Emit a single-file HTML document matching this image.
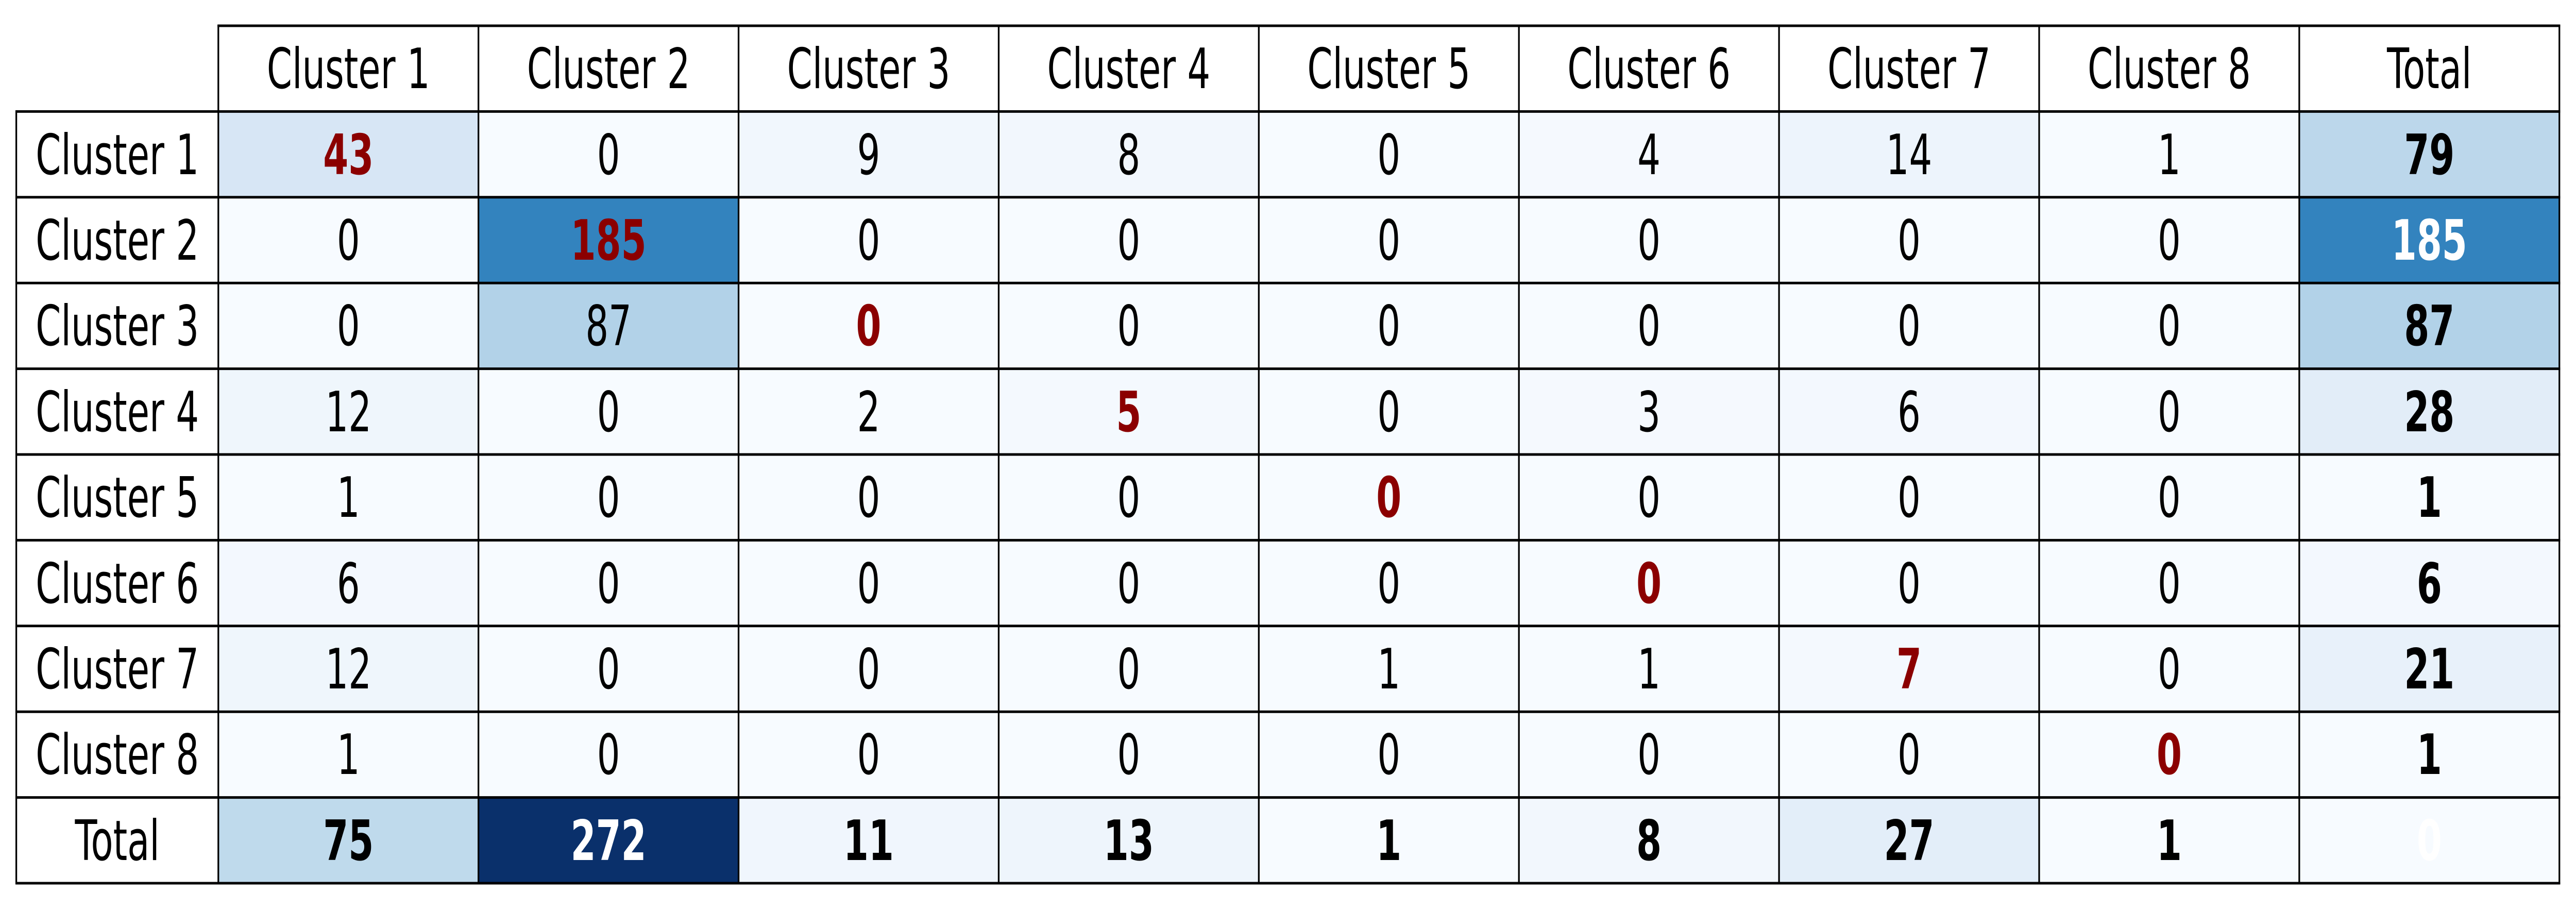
<!DOCTYPE html>
<html><head><meta charset="utf-8">
<style>
html,body{margin:0;padding:0;background:#fff;width:100vw;height:100vh;overflow:hidden}
svg{display:block;position:absolute;left:0;top:0;width:100vw;height:100vh}
text{font-family:"DejaVu Sans","Liberation Sans",sans-serif;font-size:108px;text-anchor:middle;fill:#000}
.d{fill:#8b0000;font-weight:bold}
.b{font-weight:bold}
.w{fill:#fff;font-weight:bold}
</style></head><body>
<svg viewBox="0 0 7675 1766" preserveAspectRatio="none" xmlns="http://www.w3.org/2000/svg">
<rect x="0" y="0" width="7675" height="1766" fill="#fff"/>
<rect x="650.5" y="216.4" width="6975" height="1497.6" fill="#f7fbff"/>
<rect x="650.5" y="216.4" width="775" height="166.4" fill="#d7e6f5"/>
<rect x="2200.5" y="216.4" width="775" height="166.4" fill="#f1f7fd"/>
<rect x="2975.5" y="216.4" width="775" height="166.4" fill="#f2f7fd"/>
<rect x="4525.5" y="216.4" width="775" height="166.4" fill="#f5f9fe"/>
<rect x="5300.5" y="216.4" width="775" height="166.4" fill="#edf4fc"/>
<rect x="6850.5" y="216.4" width="775" height="166.4" fill="#bcd7eb"/>
<rect x="1425.5" y="382.8" width="775" height="166.4" fill="#3383be"/>
<rect x="6850.5" y="382.8" width="775" height="166.4" fill="#3383be"/>
<rect x="1425.5" y="549.2" width="775" height="166.4" fill="#b2d2e8"/>
<rect x="6850.5" y="549.2" width="775" height="166.4" fill="#b2d2e8"/>
<rect x="650.5" y="715.6" width="775" height="166.4" fill="#eff6fc"/>
<rect x="2975.5" y="715.6" width="775" height="166.4" fill="#f4f9fe"/>
<rect x="4525.5" y="715.6" width="775" height="166.4" fill="#f5f9fe"/>
<rect x="5300.5" y="715.6" width="775" height="166.4" fill="#f3f8fe"/>
<rect x="6850.5" y="715.6" width="775" height="166.4" fill="#e2edf8"/>
<rect x="650.5" y="1048.4" width="775" height="166.4" fill="#f3f8fe"/>
<rect x="6850.5" y="1048.4" width="775" height="166.4" fill="#f3f8fe"/>
<rect x="650.5" y="1214.8" width="775" height="166.4" fill="#eff6fc"/>
<rect x="5300.5" y="1214.8" width="775" height="166.4" fill="#f4f9fe"/>
<rect x="6850.5" y="1214.8" width="775" height="166.4" fill="#e8f1fa"/>
<rect x="650.5" y="1547.6" width="775" height="166.4" fill="#bfdaec"/>
<rect x="1425.5" y="1547.6" width="775" height="166.4" fill="#0a306b"/>
<rect x="2200.5" y="1547.6" width="775" height="166.4" fill="#f0f6fd"/>
<rect x="2975.5" y="1547.6" width="775" height="166.4" fill="#eef5fc"/>
<rect x="4525.5" y="1547.6" width="775" height="166.4" fill="#f2f7fd"/>
<rect x="5300.5" y="1547.6" width="775" height="166.4" fill="#e3eef9"/>
<g stroke="#000" stroke-width="5" fill="none">
<line x1="648" y1="50" x2="7628" y2="50"/>
<line x1="46" y1="216.4" x2="7628" y2="216.4"/>
<line x1="46" y1="382.8" x2="7628" y2="382.8"/>
<line x1="46" y1="549.2" x2="7628" y2="549.2"/>
<line x1="46" y1="715.6" x2="7628" y2="715.6"/>
<line x1="46" y1="882" x2="7628" y2="882"/>
<line x1="46" y1="1048.4" x2="7628" y2="1048.4"/>
<line x1="46" y1="1214.8" x2="7628" y2="1214.8"/>
<line x1="46" y1="1381.2" x2="7628" y2="1381.2"/>
<line x1="46" y1="1547.6" x2="7628" y2="1547.6"/>
<line x1="46" y1="1714" x2="7628" y2="1714"/>
<line x1="48.5" y1="214" x2="48.5" y2="1716"/>
<line x1="650.5" y1="48" x2="650.5" y2="1716"/>
<line x1="1425.5" y1="48" x2="1425.5" y2="1716"/>
<line x1="2200.5" y1="48" x2="2200.5" y2="1716"/>
<line x1="2975.5" y1="48" x2="2975.5" y2="1716"/>
<line x1="3750.5" y1="48" x2="3750.5" y2="1716"/>
<line x1="4525.5" y1="48" x2="4525.5" y2="1716"/>
<line x1="5300.5" y1="48" x2="5300.5" y2="1716"/>
<line x1="6075.5" y1="48" x2="6075.5" y2="1716"/>
<line x1="6850.5" y1="48" x2="6850.5" y2="1716"/>
<line x1="7625.5" y1="48" x2="7625.5" y2="1716"/>
</g>
<text x="1038" y="171">Cluster 1</text><text x="1813" y="171">Cluster 2</text><text x="2588" y="171">Cluster 3</text><text x="3363" y="171">Cluster 4</text><text x="4138" y="171">Cluster 5</text><text x="4913" y="171">Cluster 6</text><text x="5688" y="171">Cluster 7</text><text x="6463" y="171">Cluster 8</text><text x="7238" y="171">Total</text>
<text x="349.5" y="338">Cluster 1</text><text x="349.5" y="504">Cluster 2</text><text x="349.5" y="670">Cluster 3</text><text x="349.5" y="837">Cluster 4</text><text x="349.5" y="1003">Cluster 5</text><text x="349.5" y="1170">Cluster 6</text><text x="349.5" y="1336">Cluster 7</text><text x="349.5" y="1502">Cluster 8</text><text x="349.5" y="1669">Total</text>
<text x="1038" y="338" class="d">43</text><text x="1813" y="338">0</text><text x="2588" y="338">9</text><text x="3363" y="338">8</text><text x="4138" y="338">0</text><text x="4913" y="338">4</text><text x="5688" y="338">14</text><text x="6463" y="338">1</text><text x="7238" y="338" class="b">79</text>
<text x="1038" y="504">0</text><text x="1813" y="504" class="d">185</text><text x="2588" y="504">0</text><text x="3363" y="504">0</text><text x="4138" y="504">0</text><text x="4913" y="504">0</text><text x="5688" y="504">0</text><text x="6463" y="504">0</text><text x="7238" y="504" class="w">185</text>
<text x="1038" y="670">0</text><text x="1813" y="670">87</text><text x="2588" y="670" class="d">0</text><text x="3363" y="670">0</text><text x="4138" y="670">0</text><text x="4913" y="670">0</text><text x="5688" y="670">0</text><text x="6463" y="670">0</text><text x="7238" y="670" class="b">87</text>
<text x="1038" y="837">12</text><text x="1813" y="837">0</text><text x="2588" y="837">2</text><text x="3363" y="837" class="d">5</text><text x="4138" y="837">0</text><text x="4913" y="837">3</text><text x="5688" y="837">6</text><text x="6463" y="837">0</text><text x="7238" y="837" class="b">28</text>
<text x="1038" y="1003">1</text><text x="1813" y="1003">0</text><text x="2588" y="1003">0</text><text x="3363" y="1003">0</text><text x="4138" y="1003" class="d">0</text><text x="4913" y="1003">0</text><text x="5688" y="1003">0</text><text x="6463" y="1003">0</text><text x="7238" y="1003" class="b">1</text>
<text x="1038" y="1170">6</text><text x="1813" y="1170">0</text><text x="2588" y="1170">0</text><text x="3363" y="1170">0</text><text x="4138" y="1170">0</text><text x="4913" y="1170" class="d">0</text><text x="5688" y="1170">0</text><text x="6463" y="1170">0</text><text x="7238" y="1170" class="b">6</text>
<text x="1038" y="1336">12</text><text x="1813" y="1336">0</text><text x="2588" y="1336">0</text><text x="3363" y="1336">0</text><text x="4138" y="1336">1</text><text x="4913" y="1336">1</text><text x="5688" y="1336" class="d">7</text><text x="6463" y="1336">0</text><text x="7238" y="1336" class="b">21</text>
<text x="1038" y="1502">1</text><text x="1813" y="1502">0</text><text x="2588" y="1502">0</text><text x="3363" y="1502">0</text><text x="4138" y="1502">0</text><text x="4913" y="1502">0</text><text x="5688" y="1502">0</text><text x="6463" y="1502" class="d">0</text><text x="7238" y="1502" class="b">1</text>
<text x="1038" y="1669" class="b">75</text><text x="1813" y="1669" class="w">272</text><text x="2588" y="1669" class="b">11</text><text x="3363" y="1669" class="b">13</text><text x="4138" y="1669" class="b">1</text><text x="4913" y="1669" class="b">8</text><text x="5688" y="1669" class="b">27</text><text x="6463" y="1669" class="b">1</text><text x="7238" y="1669" class="w">0</text>
</svg>
</body></html>
